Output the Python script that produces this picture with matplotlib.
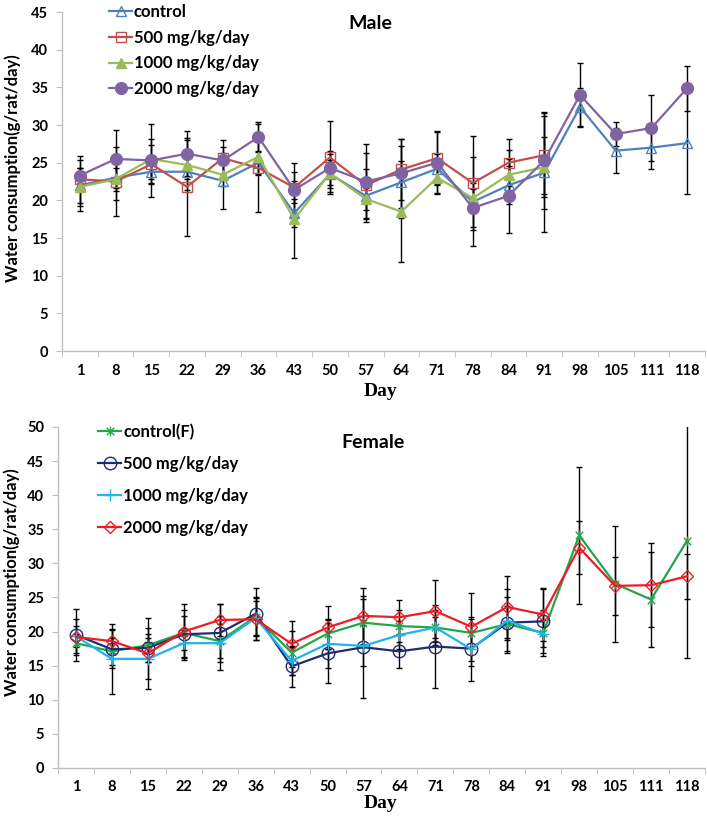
import numpy as np
import matplotlib
matplotlib.use("Agg")
import matplotlib.pyplot as plt
from matplotlib.path import Path

plt.rcParams["font.family"] = ["Lato", "DejaVu Sans"]
plt.rcParams["font.weight"] = "bold"

nan = np.nan
days = ["1", "8", "15", "22", "29", "36", "43", "50", "57", "64", "71", "78",
        "84", "91", "98", "105", "111", "118"]

# ── Male ────────────────────────────────────────────────────────────────
m_ctrl = [22.0, 23.0, 23.8, 23.8, 22.6, 25.0, 18.3, 23.5, 20.6, 22.4, 24.2, 19.8,
          22.0, 23.7, 32.4, 26.6, 27.0, 27.6]
m_ctrl_sd = [3.4, 2.9, 1.6, 1.0, 3.7, 1.5, 1.9, 1.8, 3.5, 4.8, 2.0, 5.9,
             2.5, 7.9, 2.5, 3.0, 2.9, 6.8]
m_500 = [22.8, 22.5, 24.8, 21.8, 25.6, 24.3, 21.7, 25.7, 22.0, 24.1, 25.6, 22.3,
         25.0, 26.0, nan, nan, nan, nan]
m_500_sd = [3.1, 4.6, 2.5, 6.5, 2.4, 5.8, 2.0, 4.9, 4.3, 4.1, 3.5, 6.3,
            3.1, 5.2, nan, nan, nan, nan]
m_1000 = [21.8, 22.8, 25.5, 24.7, 23.4, 25.8, 17.5, 23.6, 20.2, 18.5, 23.0, 20.3,
          23.4, 24.4, nan, nan, nan, nan]
m_1000_sd = [2.5, 1.5, 2.7, 3.3, 1.5, 2.4, 5.1, 2.5, 1.5, 6.7, 2.0, 2.0,
             3.3, 4.0, nan, nan, nan, nan]
m_2000 = [23.3, 25.5, 25.3, 26.2, 25.3, 28.4, 21.4, 24.3, 22.5, 23.6, 25.0, 19.0,
          20.6, 25.3, 34.0, 28.8, 29.6, 34.9]
m_2000_sd = [1.0, 3.8, 4.8, 3.0, 1.8, 2.0, 3.6, 2.3, 5.0, 4.6, 4.2, 2.5,
             4.9, 6.4, 4.2, 1.6, 4.4, 3.0]

# ── Female ──────────────────────────────────────────────────────────────
f_ctrl = [18.3, 17.1, 18.0, 19.8, 18.6, 22.2, 16.9, 19.7, 21.3, 20.8, 20.6, 19.8,
          21.1, 19.8, 34.1, 27.0, 24.7, 33.3]
f_ctrl_sd = [1.4, 2.0, 2.5, 2.5, 2.5, 2.8, 3.2, 2.2, 3.5, 2.3, 2.5, 2.0,
             4.0, 3.4, 10.1, 8.5, 7.0, 17.2]
f_500 = [19.5, 17.4, 17.6, 19.6, 19.8, 22.6, 14.9, 16.8, 17.7, 17.1, 17.8, 17.5,
         21.3, 21.5, nan, nan, nan, nan]
f_500_sd = [3.8, 2.8, 2.0, 3.5, 4.3, 3.8, 3.0, 4.4, 7.5, 2.4, 6.1, 4.7,
            2.5, 4.7, nan, nan, nan, nan]
f_1000 = [19.3, 16.0, 16.0, 18.3, 18.3, 22.0, 15.7, 18.2, 17.9, 19.5, 20.6, 17.4,
          21.6, 19.7, nan, nan, nan, nan]
f_1000_sd = [1.5, 5.1, 3.0, 2.0, 4.0, 2.5, 2.0, 3.5, 3.0, 2.0, 1.5, 2.5,
             4.7, 2.0, nan, nan, nan, nan]
f_2000 = [19.2, 18.6, 16.8, 20.0, 21.7, 21.8, 18.2, 20.6, 22.3, 22.1, 23.0, 20.7,
          23.6, 22.5, 32.3, 26.7, 26.8, 28.1]
f_2000_sd = [2.6, 1.8, 5.2, 4.1, 2.4, 3.1, 3.4, 3.2, 4.1, 2.5, 4.6, 5.0,
             4.6, 3.9, 3.9, 4.2, 6.2, 3.3]

# Excel-like star marker (x with a vertical bar)
star = Path([(-1, -1), (1, 1), (-1, 1), (1, -1), (0, -1.3), (0, 1.3)],
            [Path.MOVETO, Path.LINETO, Path.MOVETO, Path.LINETO,
             Path.MOVETO, Path.LINETO])

GRAY = "#BFBFBF"
x = np.arange(len(days))


def style_axes(ax, ymax, step):
    ax.set_xlim(-0.5, len(days) - 0.5)
    ax.set_ylim(0, ymax)
    ax.set_yticks(np.arange(0, ymax + 0.1, step))
    ax.set_xticks(x)
    ax.set_xticklabels(days)
    ax.set_xticks(np.arange(-0.5, len(days), 1), minor=True)
    ax.tick_params(axis="x", which="major", length=0, pad=9, labelsize=10.5)
    ax.tick_params(axis="x", which="minor", length=4, color=GRAY, direction="out")
    ax.tick_params(axis="y", length=4, color=GRAY, pad=6, labelsize=10.5)
    for s in ("top", "right"):
        ax.spines[s].set_visible(False)
    for s in ("left", "bottom"):
        ax.spines[s].set_color(GRAY)
        ax.spines[s].set_linewidth(1.0)


def series(ax, y, sd, color, marker, ms, mfc, label, mew=1.0):
    ax.errorbar(x, y, yerr=sd, color=color, lw=1.6, marker=marker, ms=ms,
                mfc=mfc, mec=color, mew=mew, ecolor="black", elinewidth=1.0,
                capsize=2.5, capthick=1.0, label=label)


fig = plt.figure(figsize=(7.07, 8.19), dpi=100)

# ── Top: Male ───────────────────────────────────────────────────────────
ax1 = fig.add_axes([0.0877, 0.5714, 0.9095, 0.4139])
series(ax1, m_ctrl, m_ctrl_sd, "#4F81BD", "^", 7.5, "none", "control")
series(ax1, m_500, m_500_sd, "#C0504D", "s", 7.5, "none", "500 mg/kg/day")
series(ax1, m_1000, m_1000_sd, "#9BBB59", "^", 7.5, "#9BBB59", "1000 mg/kg/day")
series(ax1, m_2000, m_2000_sd, "#8064A2", "o", 8.5, "#8064A2", "2000 mg/kg/day")
style_axes(ax1, 45, 5)
ax1.set_ylabel("Water consumption(g/rat/day)", fontsize=12, fontweight="bold")
ax1.yaxis.set_label_coords(-0.064, 0.54)
ax1.text(0.496, -0.118, "Day", transform=ax1.transAxes, ha="center", va="center",
         family="Liberation Serif", fontsize=14, fontweight="bold")
ax1.text(0.479, 0.965, "Male", transform=ax1.transAxes, ha="center", va="center",
         fontsize=14, fontweight="bold")
h, l = ax1.get_legend_handles_labels()
h = [hh[0] for hh in h]
ax1.legend(h, l, loc="upper left", bbox_to_anchor=(109 / 707, 1 - 4 / 819),
           bbox_transform=fig.transFigure, frameon=False, fontsize=12,
           handlelength=1.4, handletextpad=0.1, labelspacing=0.58,
           borderaxespad=0, borderpad=0)

# ── Bottom: Female ──────────────────────────────────────────────────────
ax2 = fig.add_axes([0.0820, 0.0623, 0.9151, 0.4164])
series(ax2, f_ctrl, f_ctrl_sd, "#22A64A", star, 7, "none", "control(F)")
series(ax2, f_500, f_500_sd, "#1F2D6B", "o", 9, "none", "500 mg/kg/day")
series(ax2, f_1000, f_1000_sd, "#1FB4EA", "+", 8, "none", "1000 mg/kg/day")
series(ax2, f_2000, f_2000_sd, "#EE1C24", "D", 6.5, "none", "2000 mg/kg/day")
style_axes(ax2, 50, 5)
ax2.set_ylabel("Water consumption(g/rat/day)", fontsize=12, fontweight="bold")
ax2.yaxis.set_label_coords(-0.058, 0.545)
ax2.text(0.499, -0.103, "Day", transform=ax2.transAxes, ha="center", va="center",
         family="Liberation Serif", fontsize=14, fontweight="bold")
ax2.text(0.487, 0.955, "Female", transform=ax2.transAxes, ha="center", va="center",
         fontsize=14, fontweight="bold")
h, l = ax2.get_legend_handles_labels()
h = [hh[0] for hh in h]
ax2.legend(h, l, loc="upper left", bbox_to_anchor=(98 / 707, 1 - 424 / 819),
           bbox_transform=fig.transFigure, frameon=False, fontsize=12,
           handlelength=1.4, handletextpad=0.1, labelspacing=0.95,
           borderaxespad=0, borderpad=0)

fig.savefig("out.png", dpi=100)
